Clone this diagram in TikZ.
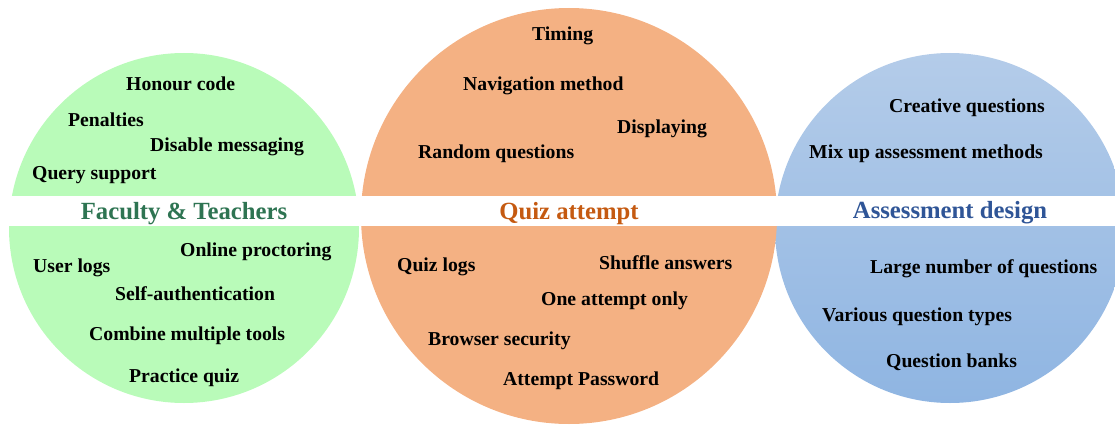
\documentclass[tikz,border=0pt]{standalone}
\usepackage{fontspec}
\setmainfont{Liberation Serif}
\definecolor{cgreen}{HTML}{B9FBB9}
\definecolor{corange}{HTML}{F4B183}
\definecolor{cbluetop}{HTML}{B4CCE9}
\definecolor{cbluebot}{HTML}{8FB5E2}
\definecolor{tgreen}{HTML}{2E7452}
\definecolor{torange}{HTML}{C55A11}
\definecolor{tblue}{HTML}{2F5597}
\begin{document}
\begin{tikzpicture}[x=1pt,y=-1pt,
  item/.style={anchor=base west,inner sep=0pt,font=\fontsize{19.7}{22}\selectfont\bfseries,text=black},
  ttl/.style={anchor=base,inner sep=0pt,font=\fontsize{24.7}{28}\selectfont\bfseries}]
\useasboundingbox (0,0) rectangle (1115,425);
% circles
\node[circle,draw=none,fill=cgreen,minimum size=350pt,inner sep=0pt] (green) at (184,228) {};
\node[circle,draw=none,top color=cbluetop,bottom color=cbluebot,minimum size=350pt,inner sep=0pt] (blue) at (950,228) {};
\node[circle,draw=none,fill=corange,minimum size=416pt,inner sep=0pt] (orange) at (569,216) {};
% white band
\fill[white] (0,196) rectangle (1115,226);
% titles
\node[ttl,text=tgreen] (t1) at (184,219) {Faculty \& Teachers};
\node[ttl,text=torange] (t2) at (569,219) {Quiz attempt};
\node[ttl,text=tblue] (t3) at (950,218) {Assessment design};
% green items
\node[item] (g1) at (126,91) {Honour code};
\node[item] (g2) at (68,127) {Penalties};
\node[item] (g3) at (150,151) {Disable messaging};
\node[item] (g4) at (32,179) {Query support};
\node[item] (g5) at (180,256) {Online proctoring};
\node[item] (g6) at (33,272) {User logs};
\node[item] (g7) at (115,300) {Self-authentication};
\node[item] (g8) at (89,340) {Combine multiple tools};
\node[item] (g9) at (129,382) {Practice quiz};
% orange items
\node[item] (o1) at (532,41) {Timing};
\node[item] (o2) at (463,91) {Navigation method};
\node[item] (o3) at (617,133) {Displaying};
\node[item] (o4) at (418,158) {Random questions};
\node[item] (o5) at (397,271) {Quiz logs};
\node[item] (o6) at (599,269) {Shuffle answers};
\node[item] (o7) at (541,305) {One attempt only};
\node[item] (o8) at (428,345) {Browser security};
\node[item] (o9) at (503,385) {Attempt Password};
% blue items
\node[item] (b1) at (889,113) {Creative questions};
\node[item] (b2) at (809,158) {Mix up assessment methods};
\node[item] (b3) at (870,273) {Large number of questions};
\node[item] (b4) at (822,321) {Various question types};
\node[item] (b5) at (886,367) {Question banks};
\end{tikzpicture}
\end{document}
